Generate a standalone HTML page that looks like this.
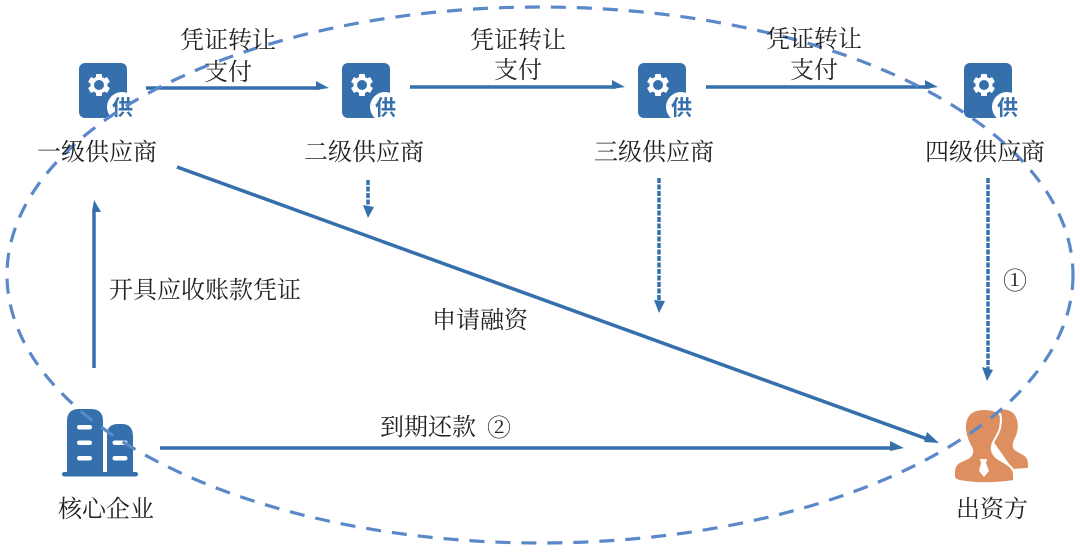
<!DOCTYPE html>
<html lang="zh">
<head>
<meta charset="utf-8">
<style>
html,body{margin:0;padding:0;background:#fff;width:1080px;height:552px;overflow:hidden}
svg{display:block}
text{font-family:"Liberation Serif","Noto Serif CJK SC",serif;font-size:24px;fill:#222;text-anchor:middle}
</style>
</head>
<body>
<svg width="1080" height="552" viewBox="0 0 1080 552" xmlns="http://www.w3.org/2000/svg">
<defs>
<g id="sup">
  <rect x="0" y="0" width="48" height="55" rx="6" fill="#3570ad"/>
  <g fill="#fff">
    <circle cx="20" cy="22" r="8.500"/>
    <rect x="17" y="11" width="6" height="22" rx="1"/>
    <rect x="17" y="11" width="6" height="22" rx="1" transform="rotate(60 20 22)"/>
    <rect x="17" y="11" width="6" height="22" rx="1" transform="rotate(120 20 22)"/>
  </g>
  <circle cx="20" cy="22" r="5" fill="#3570ad"/>
  <circle cx="43" cy="44" r="15" fill="#fff"/>
  <text x="43.500" y="52" style="font-family:'Liberation Sans','Noto Sans CJK SC',sans-serif;font-size:21px;font-weight:700;fill:#3570ad">供</text>
</g>
</defs>

<!-- solid arrows -->
<g stroke="#3570ad" stroke-width="3.500" fill="none">
  <line x1="146" y1="88" x2="320" y2="88"/>
  <line x1="410" y1="87" x2="616" y2="87"/>
  <line x1="706" y1="87" x2="930" y2="87"/>
  <line x1="94" y1="368" x2="94" y2="212"/>
  <line x1="160" y1="448" x2="895" y2="448"/>
  <line x1="177" y1="167" x2="930" y2="440"/>
</g>
<g fill="#3570ad">
  <path d="M329 88l-13-7v9z"/>
  <path d="M625 87l-13-7v9z"/>
  <path d="M938 87l-13-7v9z"/>
  <path d="M94 200l-2 12h9z"/>
  <path d="M904 448l-14-7v10z"/>
  <path d="M939 443l-12-11-3 10z"/>
</g>

<!-- dashed vertical arrows -->
<g stroke="#3570ad" stroke-width="3.500" fill="none" stroke-dasharray="5 1.500">
  <line x1="368" y1="180" x2="368" y2="208"/>
  <line x1="659" y1="178" x2="659" y2="302"/>
  <line x1="988" y1="178" x2="988" y2="370"/>
</g>
<g fill="#3570ad">
  <path d="M368 218l-5-13 11 2z"/>
  <path d="M659 313l-5-13 11 1z"/>
  <path d="M987 381l-5-14 11 3z"/>
</g>

<!-- supplier icons -->
<use href="#sup" x="79" y="63"/>
<use href="#sup" x="342" y="63"/>
<use href="#sup" x="638" y="63"/>
<use href="#sup" x="964" y="63"/>

<!-- core enterprise icon -->
<g fill="#3570ad">
  <path d="M67 473V421q0-12 12-12h12q12 0 12 12V473z"/>
  <path d="M107 473V435q0-11 11-11h4q11 0 11 13V473z"/>
  <rect x="62" y="472" width="76" height="4.500" rx="2.200"/>
</g>
<g fill="#fff">
  <rect x="77" y="425" width="15" height="4.500" rx="2.200"/>
  <rect x="77" y="440.500" width="15" height="4.500" rx="2.200"/>
  <rect x="77" y="456" width="15" height="4.500" rx="2.200"/>
  <rect x="112.500" y="440.500" width="15" height="4.500" rx="2.200"/>
  <rect x="112.500" y="456" width="15" height="4.500" rx="2.200"/>
</g>

<!-- funder icon -->
<path d="M998 410c10-2 17 2 19 10c2 8 0 14-3 20c-2 5-2 9 2 11l7 4c5 3 5 6 5 13l-1 0c0 0 0 0 0 0l-14 1l-6-8l-14-20z" fill="#dd8f5f"/>
<path d="M984 409c-14 0-20 8-19 21c1 8 4 14 7 19c1 4-1 7-4 9c-6 3-14 4-14 14v4c0 3 2 4 6 5c14 3 34 3 54 0v-6c0-8-6-10-12-14c-8-4-11-9-10-15c1-6 6-10 8-18c1-6 2-13-1-15c-4-3-9-4-15-4z" fill="#dd8f5f" stroke="#fff" stroke-width="2"/>
<path d="M980 459h7l-1 4 3 8-5 6-5-6 2-8z" fill="#fff"/>

<!-- dashed ellipse -->
<ellipse cx="540" cy="275" rx="533" ry="268" fill="none" stroke="#5b88c8" stroke-width="3.200" stroke-dasharray="15 11"/>

<!-- labels -->
<text x="97" y="160">一级供应商</text>
<text x="364" y="160">二级供应商</text>
<text x="654" y="160">三级供应商</text>
<text x="985" y="160">四级供应商</text>
<text x="228" y="48">凭证转让</text>
<text x="228" y="80">支付</text>
<text x="518" y="48">凭证转让</text>
<text x="518" y="78">支付</text>
<text x="814" y="47">凭证转让</text>
<text x="814" y="78">支付</text>
<text x="205" y="298">开具应收账款凭证</text>
<text x="480" y="328">申请融资</text>
<text x="1015" y="289">①</text>
<text x="428" y="435">到期还款</text>
<text x="499" y="436">②</text>
<text x="106" y="517">核心企业</text>
<text x="992" y="517">出资方</text>
</svg>
</body>
</html>
